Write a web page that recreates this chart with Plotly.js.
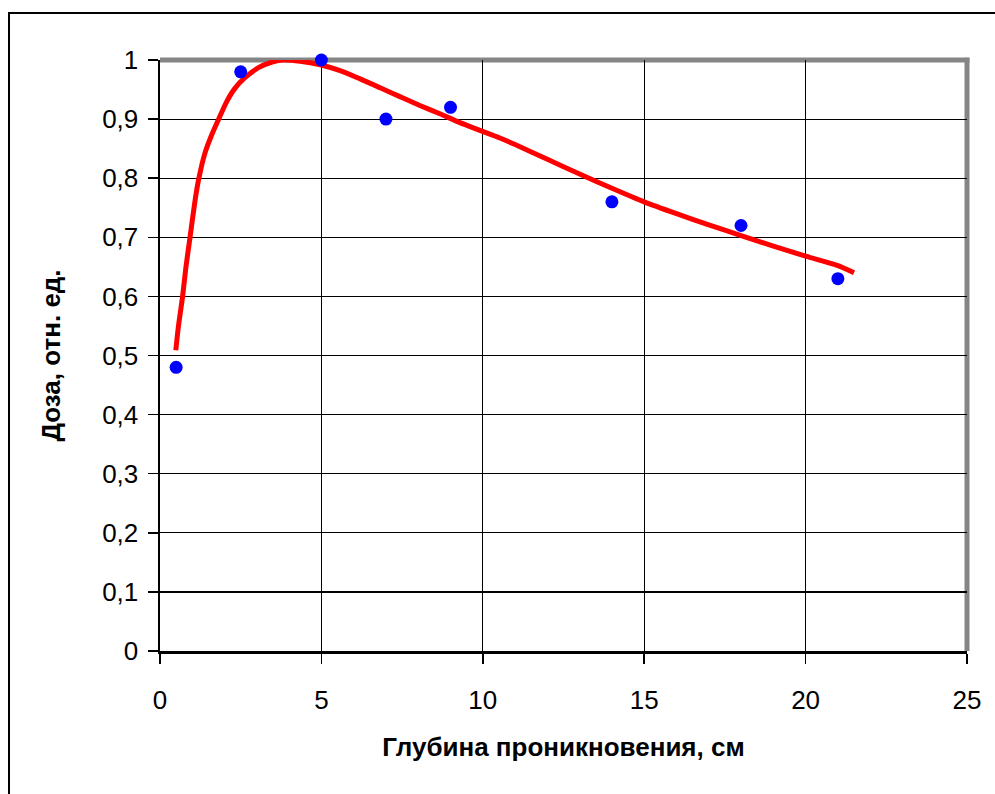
<!DOCTYPE html>
<html>
<head>
<meta charset="utf-8">
<script src="https://cdn.plot.ly/plotly-3.0.1.min.js"></script>
<style>
html,body{margin:0;padding:0;background:#fff;}
#chart{width:995px;height:794px;}
</style>
</head>
<body>
<div id="chart"></div>
<script>
// Measured points
var depth = [0.5, 2.5, 5, 7, 9, 14, 18, 21];
var dose = [0.48, 0.98, 1.0, 0.90, 0.92, 0.76, 0.72, 0.63];

// Fitted (trend) curve
var fitDepth = [0.49, 0.57, 0.70, 0.80, 0.93, 1.08, 1.19, 1.39, 1.60, 1.81, 2.07, 2.32, 2.63, 3.05, 3.5, 3.82, 4.34, 4.96, 5.58, 6.2, 6.82, 7.43, 8.05, 8.67, 9.29, 9.91, 10.53, 11, 12, 13, 14, 15, 16, 17, 18, 19, 20, 21, 21.5];
var fitDose = [0.509, 0.549, 0.600, 0.648, 0.700, 0.760, 0.796, 0.842, 0.873, 0.899, 0.930, 0.952, 0.970, 0.987, 0.997, 1.0, 0.998, 0.992, 0.982, 0.968, 0.953, 0.938, 0.923, 0.909, 0.894, 0.881, 0.868, 0.857, 0.832, 0.807, 0.783, 0.760, 0.740, 0.721, 0.703, 0.685, 0.668, 0.652, 0.640];

var xTicks = [0, 5, 10, 15, 20, 25];
var yTicks = [0, 0.1, 0.2, 0.3, 0.4, 0.5, 0.6, 0.7, 0.8, 0.9, 1];
var yTickText = ['0', '0,1', '0,2', '0,3', '0,4', '0,5', '0,6', '0,7', '0,8', '0,9', '1'];

var xTitle = 'Глубина проникновения, см';
var yTitle = 'Доза, отн. ед.';

var traces = [
  {
    x: fitDepth, y: fitDose, type: 'scatter', mode: 'lines',
    line: {color: '#ff0000', width: 5, shape: 'spline', smoothing: 0.7},
    cliponaxis: false, hoverinfo: 'skip'
  },
  {
    x: depth, y: dose, type: 'scatter', mode: 'markers',
    marker: {color: '#0000ff', size: 13},
    cliponaxis: false
  }
];

var fontFam = '"Liberation Sans", Arial, sans-serif';

var layout = {
  width: 995, height: 794,
  margin: {l: 160, r: 28, t: 60, b: 143},
  paper_bgcolor: '#ffffff', plot_bgcolor: '#ffffff',
  showlegend: false,
  font: {family: fontFam, color: '#000000', size: 26},
  xaxis: {
    range: [0, 25], tickvals: xTicks, ticktext: xTicks.map(String),
    showgrid: true, gridcolor: '#000000', gridwidth: 1.2,
    showline: true, linecolor: '#000000', linewidth: 2.5,
    ticks: 'outside', ticklen: 10, tickwidth: 1.5, tickcolor: '#000000',
    ticklabelstandoff: 14,
    zeroline: false, fixedrange: true,
    tickfont: {family: fontFam, size: 26, color: '#000000'},
    title: {text: xTitle, font: {family: fontFam, size: 26, color: '#000000', weight: 'bold'}, standoff: 24}
  },
  yaxis: {
    range: [0, 1], tickvals: yTicks, ticktext: yTickText,
    showgrid: true, gridcolor: '#000000', gridwidth: 1.2,
    showline: true, linecolor: '#000000', linewidth: 2.5,
    ticks: 'outside', ticklen: 10, tickwidth: 1.5, tickcolor: '#000000',
    ticklabelstandoff: 4,
    zeroline: false, fixedrange: true,
    tickfont: {family: fontFam, size: 26, color: '#000000'},
    title: {text: yTitle, font: {family: fontFam, size: 26, color: '#000000', weight: 'bold'}, standoff: 34}
  },
  shapes: [
    {type: 'line', xref: 'paper', yref: 'paper', x0: 0, x1: 1.003, y0: 1, y1: 1, layer: 'between',
     line: {color: '#858585', width: 5}},
    {type: 'line', xref: 'paper', yref: 'paper', x0: 1, x1: 1, y0: 0, y1: 1.004, layer: 'between',
     line: {color: '#858585', width: 5}},
    {type: 'rect', xref: 'paper', yref: 'paper', x0: -0.1871, x1: 1.1, y0: -0.3, y1: 1.0795, layer: 'below',
     line: {color: '#000000', width: 2}, fillcolor: 'rgba(0,0,0,0)'}
  ]
};

Plotly.newPlot('chart', traces, layout, {displayModeBar: false, staticPlot: true});
</script>
</body>
</html>
